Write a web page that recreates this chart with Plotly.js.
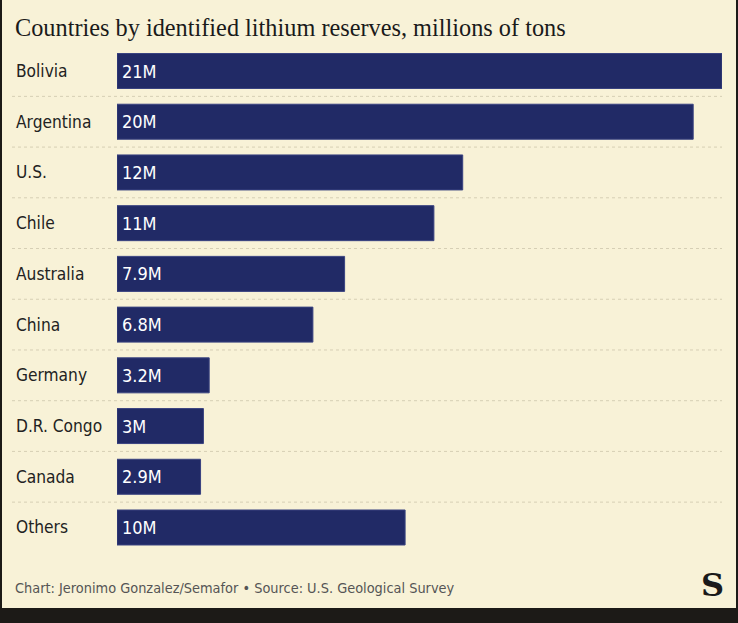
<!DOCTYPE html>
<html>
<head>
<meta charset="utf-8">
<script src="https://cdn.plot.ly/plotly-3.0.1.min.js"></script>
<style>html,body{margin:0;padding:0;background:#f8f2d7;}#chart{width:738px;height:623px;}</style>
</head>
<body>
<div id="chart"></div>
<script>
const countries = ["Bolivia","Argentina","U.S.","Chile","Australia","China","Germany","D.R. Congo","Canada","Others"];
const reserves = [21, 20, 12, 11, 7.9, 6.8, 3.2, 3, 2.9, 10];
const valueLabels = ["21M","20M","12M","11M","7.9M","6.8M","3.2M","3M","2.9M","10M"];
const titleText = "Countries by identified lithium reserves, millions of tons";
const footerText = "Chart: Jeronimo Gonzalez/Semafor \u2022 Source: U.S. Geological Survey";

const W = 738, H = 623;
const sansFont = "'DejaVu Sans Condensed', Roboto, sans-serif";
const cream = "#f8f2d7";
const navy = "#212a66";

const trace = {
  type: "bar",
  orientation: "h",
  x: reserves,
  y: countries,
  width: 0.69,
  marker: {color: navy, line: {color: "#3a4380", width: 1}},
  hoverinfo: "none"
};

const annotations = [];
countries.forEach((c, i) => {
  annotations.push({
    xref: "paper", yref: "y", x: 14 / W, y: c, xanchor: "left", yanchor: "middle",
    text: c, showarrow: false, font: {family: sansFont, size: 17.2, color: "#222222"}
  });
  annotations.push({
    xref: "x", yref: "y", x: 0, y: c, xanchor: "left", yanchor: "middle", xshift: 3,
    text: valueLabels[i], showarrow: false, font: {family: sansFont, size: 18, color: "#ffffff"}
  });
});
annotations.push({
  xref: "paper", yref: "paper", x: 13 / W, y: 1 - 27 / H, xanchor: "left", yanchor: "middle",
  text: titleText, showarrow: false, font: {family: "'Liberation Serif', 'DejaVu Serif', serif", size: 24.3, color: "#1a1a1a"}
});
annotations.push({
  xref: "paper", yref: "paper", x: 13 / W, y: 1 - 588 / H, xanchor: "left", yanchor: "middle",
  text: footerText, showarrow: false, font: {family: sansFont, size: 14.4, color: "#555555"}
});
annotations.push({
  xref: "paper", yref: "paper", x: 712 / W, y: 1 - 585 / H, xanchor: "center", yanchor: "middle",
  text: "<b>S</b>", showarrow: false, font: {family: "'DejaVu Serif', serif", size: 32, color: "#1a1a1a"}
});

const shapes = [];
for (let i = 0; i < countries.length - 1; i++) {
  shapes.push({
    type: "line", xref: "paper", yref: "y", x0: 12 / W, x1: 722 / W, y0: i + 0.5, y1: i + 0.5,
    line: {color: "#d6cfb4", width: 1, dash: "dot"}, layer: "below"
  });
}
// frame: left, right, bottom dark strip
shapes.push({type: "rect", xref: "paper", yref: "paper", x0: 0, x1: 2 / W, y0: 0, y1: 1, fillcolor: "#1c1a17", line: {width: 0}});
shapes.push({type: "rect", xref: "paper", yref: "paper", x0: 736 / W, x1: 1, y0: 0, y1: 1, fillcolor: "#1c1a17", line: {width: 0}});
shapes.push({type: "rect", xref: "paper", yref: "paper", x0: 0, x1: 1, y0: 0, y1: 15 / H, fillcolor: "#1c1a17", line: {width: 0}});

const layout = {
  width: W, height: H,
  margin: {l: 0, r: 0, t: 0, b: 0},
  paper_bgcolor: cream, plot_bgcolor: "rgba(0,0,0,0)",
  showlegend: false,
  xaxis: {domain: [117 / W, 722 / W], range: [0, 21], visible: false, fixedrange: true},
  yaxis: {domain: [70.15 / H, 577.35 / H], range: [9.5, -0.5], type: "category", visible: false, fixedrange: true},
  annotations: annotations,
  shapes: shapes,
  bargap: 0.31
};

Plotly.newPlot("chart", [trace], layout, {displayModeBar: false, staticPlot: true});
</script>
</body>
</html>
